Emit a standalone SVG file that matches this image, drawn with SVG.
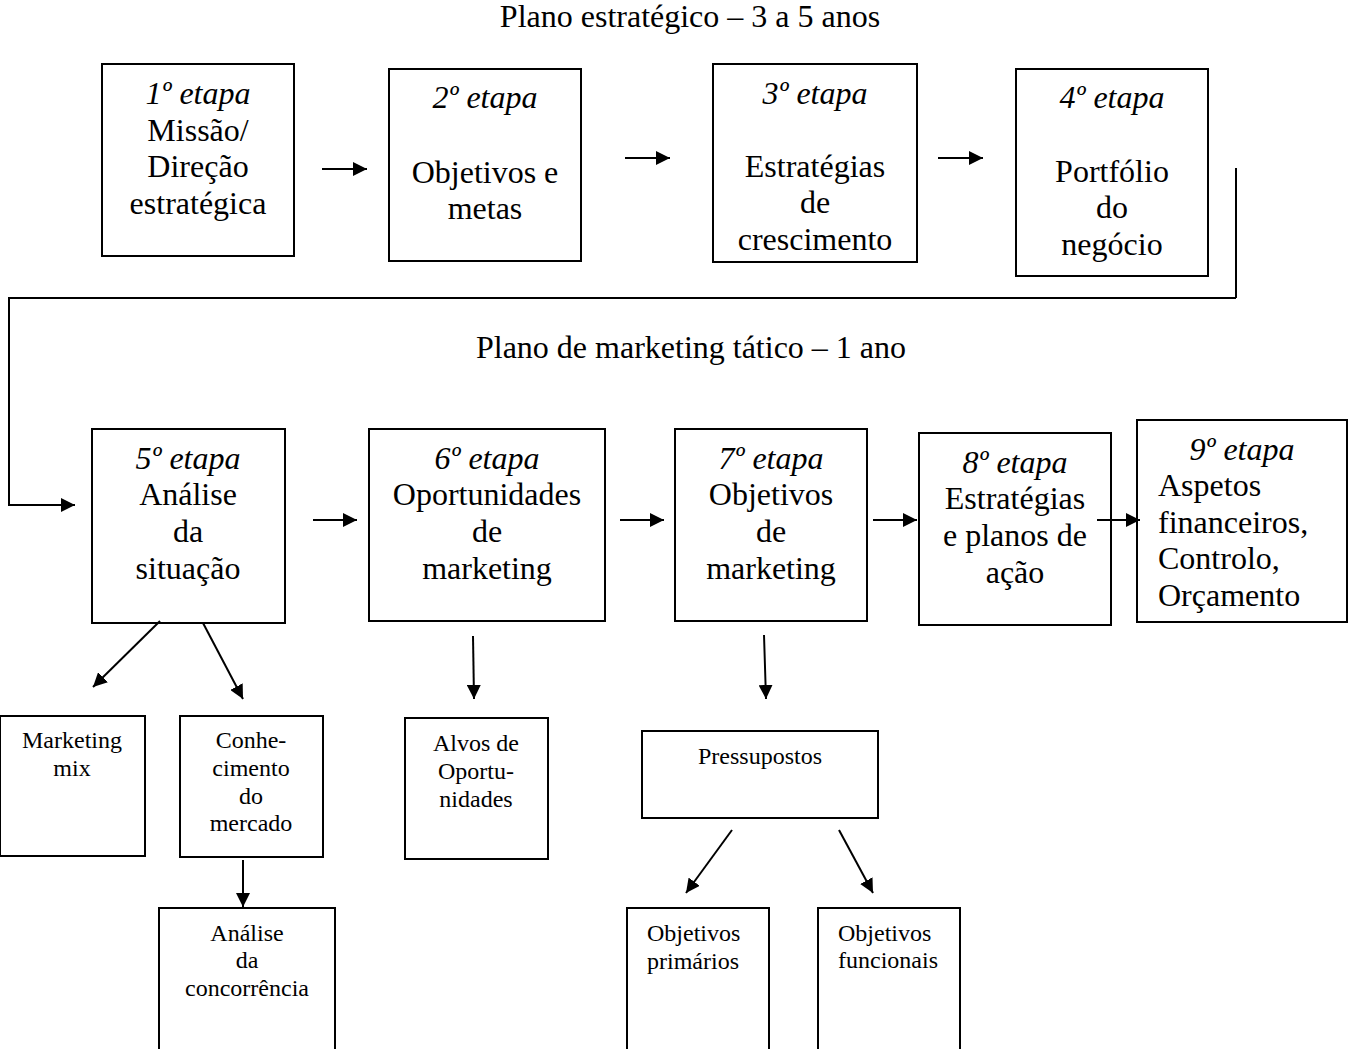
<svg xmlns="http://www.w3.org/2000/svg" width="1348" height="1049" viewBox="0 0 1348 1049">
  <style>
    .box { fill: #ffffff; stroke: #000000; stroke-width: 2; }
    .t { font-family: "Liberation Serif", "Times New Roman", serif; fill: #000000; }
    .big { font-size: 32px; text-anchor: middle; }
    .title { font-size: 32px; text-anchor: middle; }
    .step { font-style: italic; }
    .small { font-size: 24px; text-anchor: middle; }
    .left { text-anchor: start; }
    .edge { fill: none; stroke: #000000; stroke-width: 2; }
  </style>
  <defs>
    <marker id="arrow" markerUnits="userSpaceOnUse" markerWidth="16" markerHeight="14" refX="14" refY="7" orient="auto">
      <path d="M0,0 L14,7 L0,14 Z" fill="#000000"/>
    </marker>
  </defs>

  <rect width="1348" height="1049" fill="#ffffff"/>

  <!-- section titles -->
  <text class="t title" x="690" y="27">Plano estratégico – 3 a 5 anos</text>
  <text class="t title" x="691" y="358">Plano de marketing tático – 1 ano</text>

  <!-- strategic plan -->
  <g id="etapa1">
    <rect class="box" x="102" y="64" width="192" height="192"/>
    <text class="t big step" x="198" y="104">1º etapa</text>
    <text class="t big" x="198" y="141">Missão/</text>
    <text class="t big" x="198" y="177">Direção</text>
    <text class="t big" x="198" y="214">estratégica</text>
  </g>
  <g id="etapa2">
    <rect class="box" x="389" y="69" width="192" height="192"/>
    <text class="t big step" x="485" y="108">2º etapa</text>
    <text class="t big" x="485" y="183">Objetivos e</text>
    <text class="t big" x="485" y="219">metas</text>
  </g>
  <g id="etapa3">
    <rect class="box" x="713" y="64" width="204" height="198"/>
    <text class="t big step" x="815" y="104">3º etapa</text>
    <text class="t big" x="815" y="177">Estratégias</text>
    <text class="t big" x="815" y="213">de</text>
    <text class="t big" x="815" y="250">crescimento</text>
  </g>
  <g id="etapa4">
    <rect class="box" x="1016" y="69" width="192" height="207"/>
    <text class="t big step" x="1112" y="108">4º etapa</text>
    <text class="t big" x="1112" y="182">Portfólio</text>
    <text class="t big" x="1112" y="218">do</text>
    <text class="t big" x="1112" y="255">negócio</text>
  </g>

  <!-- tactical marketing plan -->
  <g id="etapa5">
    <rect class="box" x="92" y="429" width="193" height="194"/>
    <text class="t big step" x="188" y="469">5º etapa</text>
    <text class="t big" x="188" y="505">Análise</text>
    <text class="t big" x="188" y="542">da</text>
    <text class="t big" x="188" y="579">situação</text>
  </g>
  <g id="etapa6">
    <rect class="box" x="369" y="429" width="236" height="192"/>
    <text class="t big step" x="487" y="469">6º etapa</text>
    <text class="t big" x="487" y="505">Oportunidades</text>
    <text class="t big" x="487" y="542">de</text>
    <text class="t big" x="487" y="579">marketing</text>
  </g>
  <g id="etapa7">
    <rect class="box" x="675" y="429" width="192" height="192"/>
    <text class="t big step" x="771" y="469">7º etapa</text>
    <text class="t big" x="771" y="505">Objetivos</text>
    <text class="t big" x="771" y="542">de</text>
    <text class="t big" x="771" y="579">marketing</text>
  </g>
  <g id="etapa8">
    <rect class="box" x="919" y="433" width="192" height="192"/>
    <text class="t big step" x="1015" y="473">8º etapa</text>
    <text class="t big" x="1015" y="509">Estratégias</text>
    <text class="t big" x="1015" y="546">e planos de</text>
    <text class="t big" x="1015" y="583">ação</text>
  </g>
  <g id="etapa9">
    <rect class="box" x="1137" y="420" width="210" height="202"/>
    <text class="t big step" x="1242" y="460">9º etapa</text>
    <text class="t big left" x="1158" y="496">Aspetos</text>
    <text class="t big left" x="1158" y="533">financeiros,</text>
    <text class="t big left" x="1158" y="569">Controlo,</text>
    <text class="t big left" x="1158" y="606">Orçamento</text>
  </g>

  <!-- detail boxes -->
  <g id="marketing-mix">
    <rect class="box" x="0" y="716" width="145" height="140"/>
    <text class="t small" x="72" y="748">Marketing</text>
    <text class="t small" x="72" y="776">mix</text>
  </g>
  <g id="conhecimento-mercado">
    <rect class="box" x="180" y="716" width="143" height="141"/>
    <text class="t small" x="251" y="748">Conhe-</text>
    <text class="t small" x="251" y="776">cimento</text>
    <text class="t small" x="251" y="804">do</text>
    <text class="t small" x="251" y="831">mercado</text>
  </g>
  <g id="analise-concorrencia">
    <rect class="box" x="159" y="908" width="176" height="145"/>
    <text class="t small" x="247" y="941">Análise</text>
    <text class="t small" x="247" y="968">da</text>
    <text class="t small" x="247" y="996">concorrência</text>
  </g>
  <g id="alvos-oportunidades">
    <rect class="box" x="405" y="718" width="143" height="141"/>
    <text class="t small" x="476" y="751">Alvos de</text>
    <text class="t small" x="476" y="779">Oportu-</text>
    <text class="t small" x="476" y="807">nidades</text>
  </g>
  <g id="pressupostos">
    <rect class="box" x="642" y="731" width="236" height="87"/>
    <text class="t small" x="760" y="764">Pressupostos</text>
  </g>
  <g id="objetivos-primarios">
    <rect class="box" x="627" y="908" width="142" height="145"/>
    <text class="t small left" x="647" y="941">Objetivos</text>
    <text class="t small left" x="647" y="969">primários</text>
  </g>
  <g id="objetivos-funcionais">
    <rect class="box" x="818" y="908" width="142" height="145"/>
    <text class="t small left" x="838" y="941">Objetivos</text>
    <text class="t small left" x="838" y="968">funcionais</text>
  </g>

  <!-- connectors -->
  <g id="connectors">
    <line class="edge" x1="322" y1="169" x2="367" y2="169" marker-end="url(#arrow)"/>
    <line class="edge" x1="625" y1="158" x2="670" y2="158" marker-end="url(#arrow)"/>
    <line class="edge" x1="938" y1="158" x2="983" y2="158" marker-end="url(#arrow)"/>
    <path class="edge" d="M1236,168 V298 M1236,298 H9 V505 H75" marker-end="url(#arrow)"/>
    <line class="edge" x1="313" y1="520" x2="357" y2="520" marker-end="url(#arrow)"/>
    <line class="edge" x1="620" y1="520" x2="664" y2="520" marker-end="url(#arrow)"/>
    <line class="edge" x1="873" y1="520" x2="917" y2="520" marker-end="url(#arrow)"/>
    <line class="edge" x1="1097" y1="520" x2="1140" y2="520" marker-end="url(#arrow)"/>
    <line class="edge" x1="160" y1="621" x2="93" y2="687" marker-end="url(#arrow)"/>
    <line class="edge" x1="203" y1="623" x2="243" y2="699" marker-end="url(#arrow)"/>
    <line class="edge" x1="473" y1="636" x2="474" y2="699" marker-end="url(#arrow)"/>
    <line class="edge" x1="243" y1="860" x2="243" y2="907" marker-end="url(#arrow)"/>
    <line class="edge" x1="764" y1="635" x2="766" y2="699" marker-end="url(#arrow)"/>
    <line class="edge" x1="732" y1="830" x2="686" y2="893" marker-end="url(#arrow)"/>
    <line class="edge" x1="839" y1="830" x2="873" y2="893" marker-end="url(#arrow)"/>
  </g>
</svg>
